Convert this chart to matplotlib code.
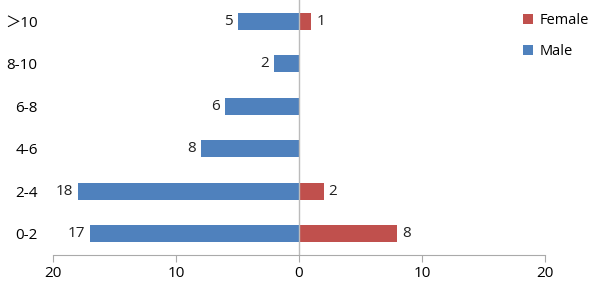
import matplotlib
matplotlib.use("Agg")
from matplotlib import pyplot as plt
import numpy as np

# age groups, bottom to top
groups = ["0-2", "2-4", "4-6", "6-8", "8-10", "\uff1e10"]
male = [17, 18, 8, 6, 2, 5]
female = [8, 2, 0, 0, 0, 1]

blue = "#4F81BD"
red = "#C0504D"

plt.rcParams["font.family"] = ["Open Sans", "Noto Sans CJK SC", "DejaVu Sans"]

fig = plt.figure(figsize=(5.98, 2.85), dpi=100)
ax = fig.add_axes([53 / 598, 30 / 285, 492 / 598, 255 / 285])

y = np.arange(len(groups))
ax.barh(y, [-m for m in male], height=0.4, color=blue, label="Male")
ax.barh(y, female, height=0.4, color=red, label="Female")

# value labels
for i, m in enumerate(male):
    ax.text(-m - 0.4, i, str(m), ha="right", va="center", fontsize=11, color="#222222")
for i, f in enumerate(female):
    if f > 0:
        ax.text(f + 0.4, i, str(f), ha="left", va="center", fontsize=11, color="#222222")

ax.axvline(0, color="#BBBBBB", lw=1)
ax.set_xlim(-20, 20)
ax.set_ylim(-0.5, len(groups) - 0.5)
ax.set_xticks([-20, -10, 0, 10, 20])
ax.set_xticklabels(["20", "10", "0", "10", "20"], fontsize=11)
ax.set_yticks(y)
ax.set_yticklabels(groups, fontsize=11)
ax.tick_params(axis="y", length=0, pad=11)
ax.tick_params(axis="x", length=5, color="#AAAAAA", pad=3)
for s in ["top", "right", "left"]:
    ax.spines[s].set_visible(False)
ax.spines["bottom"].set_color("#AAAAAA")

h, l = ax.get_legend_handles_labels()
fig.legend(h[::-1], l[::-1], loc="upper left", bbox_to_anchor=(510 / 598, 1.0),
           frameon=False, fontsize=10.5, handlelength=0.7, handleheight=0.7,
           handletextpad=0.4, labelspacing=1.1)

fig.savefig("out.png", dpi=100)
